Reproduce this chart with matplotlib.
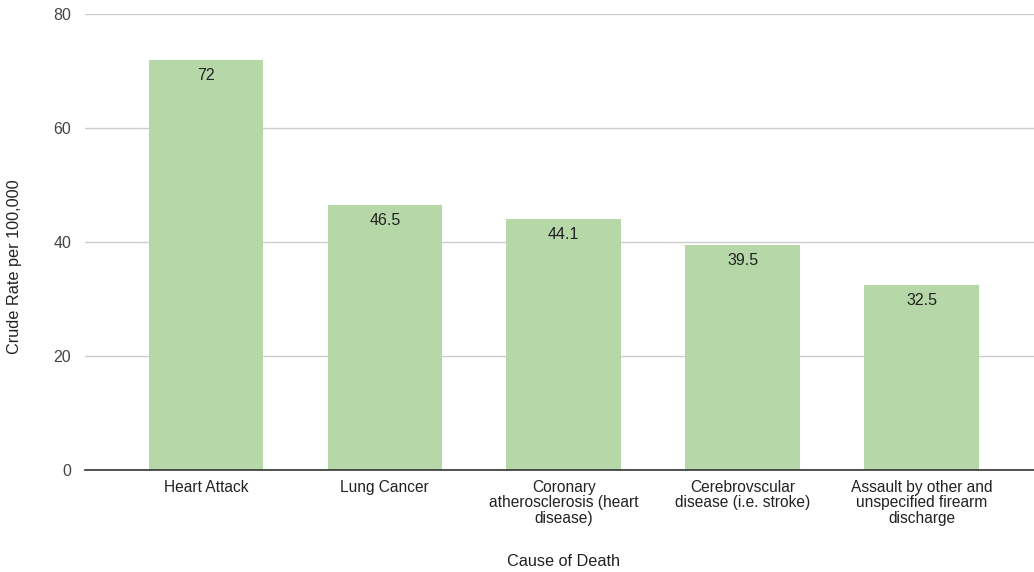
import numpy as np
import matplotlib.pyplot as plt

plt.rcParams['font.family'] = ['Liberation Sans', 'DejaVu Sans']

# data
causes = ['Heart Attack', 'Lung Cancer', 'Coronary\natherosclerosis (heart\ndisease)',
          'Cerebrovscular\ndisease (i.e. stroke)', 'Assault by other and\nunspecified firearm\ndischarge']
rates = [72, 46.5, 44.1, 39.5, 32.5]
y_ticks = [0, 20, 40, 60, 80]

fig = plt.figure(figsize=(10.34, 5.72), dpi=100)
ax = fig.add_axes([85 / 1034, 102 / 572, 957 / 1034, 456 / 572])

x = np.arange(len(causes))
bars = ax.bar(x, rates, width=0.64, color='#b6d7a8', zorder=2)

for b, v in zip(bars, rates):
    ax.annotate(f'{v:g}', (b.get_x() + b.get_width() / 2, v), xytext=(0, -6),
                textcoords='offset points', ha='center', va='top',
                fontsize=11.5, color='#222222')

ax.set_xlim(-0.675, 4.672)
ax.set_ylim(0, 80)
ax.set_yticks(y_ticks)
ax.set_xticks(x)
ax.set_xticklabels(causes, fontsize=11.2, color='#222222', linespacing=1.05)
ax.tick_params(axis='y', length=0, pad=10, labelsize=11.5, labelcolor='#444444')
ax.tick_params(axis='x', length=0, pad=7)

ax.grid(axis='y', color='#cccccc', linewidth=1, zorder=0)
for s in ['top', 'right', 'left']:
    ax.spines[s].set_visible(False)
ax.spines['bottom'].set_color('#333333')
ax.spines['bottom'].set_linewidth(1.2)
ax.spines['bottom'].set_zorder(3)

ax.set_xlabel('Cause of Death', fontsize=11.7, color='#222222', labelpad=20)
ax.set_ylabel('Crude Rate per 100,000', fontsize=11.7, color='#222222')
ax.yaxis.set_label_coords(-63 / 957, 0.445)

fig.savefig('out.png', dpi=100)
